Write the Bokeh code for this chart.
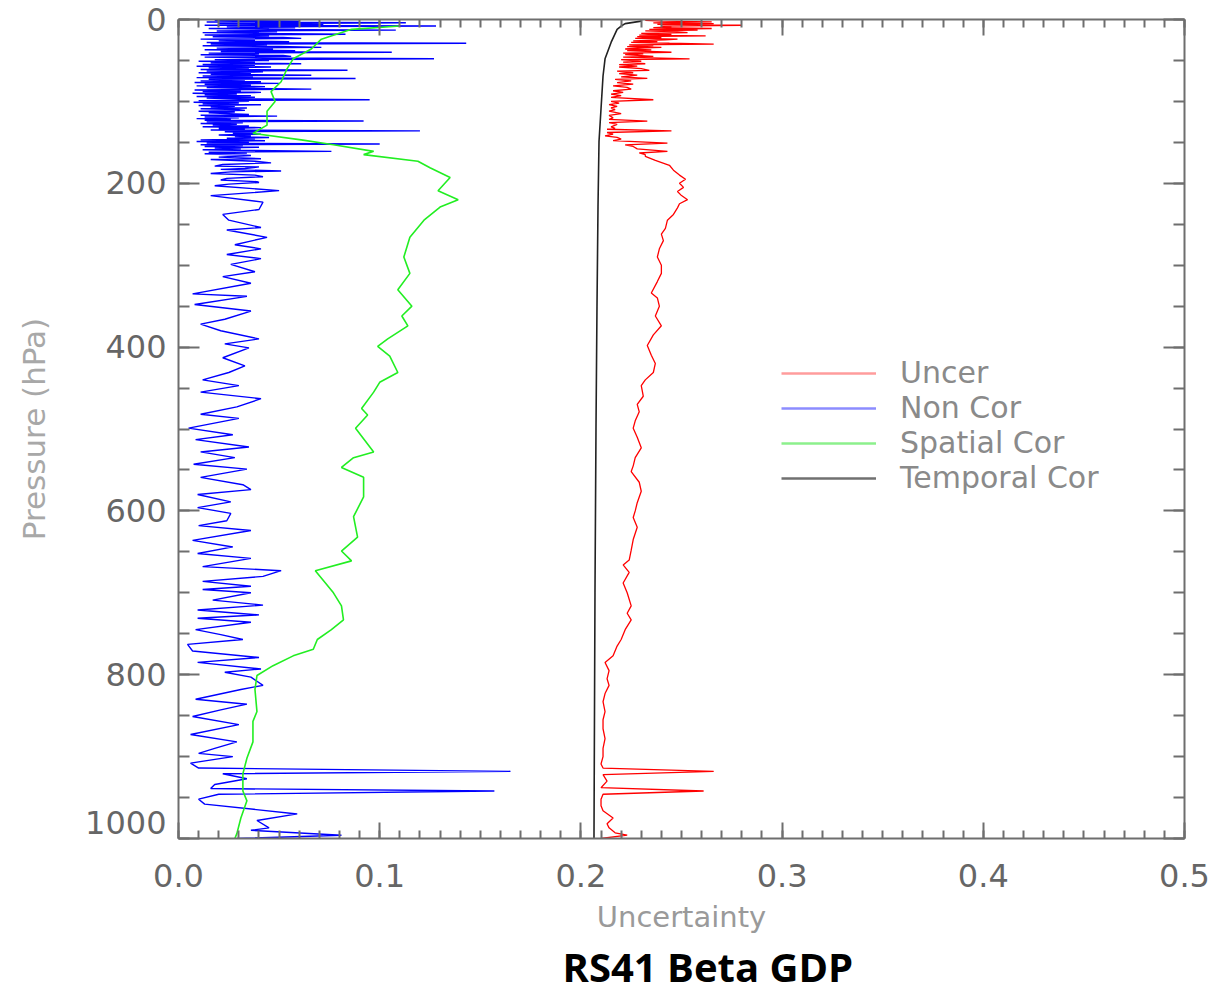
from bokeh.plotting import figure
from bokeh.models import (Range1d, LinearAxis, Legend, LegendItem, Title, CustomJSTickFormatter,
                          SingleIntervalTicker, NumeralTickFormatter, ColumnDataSource)
from bokeh.embed import file_html
from bokeh.resources import INLINE

# ---------------- data ----------------
x_ticks_fmt = "0.0"
# the bottom label of the pressure axis sits a little inward in the original
y_label_overrides = {1000: "1000\n "}
series_names = ["Uncer", "Non Cor", "Spatial Cor", "Temporal Cor"]

# Non Cor (blue)
noncor_p = [1, 2, 3, 4, 5, 6, 7, 8, 9, 10, 11, 12, 13, 14, 15, 16, 17, 18, 19, 20,
            21, 22, 23, 24, 25, 26, 27, 28, 29, 30, 31, 32, 33, 34, 35, 36, 37, 38, 39, 40,
            41, 42, 43, 44, 45, 46, 47, 48, 49, 50, 51, 52, 53, 54, 55, 56, 57, 58, 59, 60,
            61, 62, 63, 64, 65, 66, 67, 68, 69, 70, 71, 72, 73, 74, 75, 76, 77, 78, 79, 80,
            81, 82, 83, 84, 85, 86, 87, 88, 89, 90, 91, 92, 93, 94, 95, 96, 97, 98, 99, 100,
            101, 102, 103, 104, 105, 106, 107, 108, 109, 110, 111, 112, 113, 114, 116, 117, 118, 119, 120, 121,
            122, 123, 124, 125, 126, 127, 128, 129, 130, 131, 132, 133, 134, 135, 136, 137, 138, 139, 140, 141,
            142, 143, 144, 145, 146, 147, 148, 149, 150, 151, 152, 153, 154, 155, 156, 157, 158, 159, 160, 161,
            162, 163, 164, 166, 168, 170, 171, 173, 175, 177, 179, 180, 182, 183, 185, 186, 188, 190, 192, 194,
            196, 198, 199, 201, 203, 209, 215, 223, 232, 238, 245, 254, 257, 266, 275, 280, 287, 292, 299, 308,
            314, 322, 335, 338, 348, 356, 366, 372, 380, 390, 396, 401, 413, 423, 431, 440, 447, 455, 463, 473,
            482, 487, 499, 507, 513, 522, 528, 535, 543, 549, 559, 568, 574, 580, 589, 596, 603, 612, 618, 624,
            636, 644, 652, 658, 668, 673, 680, 686, 692, 696, 700, 709, 715, 721, 727, 731, 736, 745, 751, 757,
            763, 771, 779, 785, 793, 797, 803, 813, 818, 830, 836, 843, 851, 861, 873, 882, 890, 896, 900, 908,
            914, 918, 921, 927, 934, 939, 942, 946, 952, 958, 970, 978, 987, 990, 996, 1000]
noncor_u = [0.018, 0.060, 0.014, 0.113, 0.020, 0.072, 0.013, 0.128, 0.024, 0.058, 0.015, 0.045, 0.108, 0.019, 0.049, 0.012, 0.040, 0.083, 0.013, 0.045,
            0.017, 0.052, 0.061, 0.011, 0.038, 0.020, 0.055, 0.014, 0.143, 0.016, 0.044, 0.012, 0.050, 0.071, 0.019, 0.047, 0.013, 0.058, 0.021, 0.106,
            0.015, 0.040, 0.011, 0.052, 0.056, 0.013, 0.042, 0.127, 0.018, 0.045, 0.010, 0.038, 0.016, 0.061, 0.012, 0.038, 0.009, 0.046, 0.015, 0.035,
            0.011, 0.084, 0.014, 0.042, 0.010, 0.036, 0.016, 0.066, 0.012, 0.037, 0.009, 0.088, 0.015, 0.033, 0.011, 0.041, 0.008, 0.050, 0.013, 0.036,
            0.009, 0.043, 0.014, 0.031, 0.066, 0.008, 0.031, 0.012, 0.041, 0.007, 0.029, 0.013, 0.036, 0.009, 0.038, 0.014, 0.030, 0.095, 0.010, 0.035,
            0.0075, 0.030, 0.012, 0.041, 0.010, 0.028, 0.016, 0.034, 0.011, 0.030, 0.033, 0.010, 0.028, 0.015, 0.035, 0.011, 0.049, 0.013, 0.030, 0.009,
            0.026, 0.013, 0.092, 0.014, 0.032, 0.011, 0.029, 0.017, 0.035, 0.012, 0.041, 0.020, 0.033, 0.016, 0.120, 0.023, 0.038, 0.027, 0.041, 0.020,
            0.036, 0.028, 0.045, 0.024, 0.038, 0.011, 0.043, 0.009, 0.035, 0.014, 0.100, 0.011, 0.032, 0.013, 0.040, 0.018, 0.031, 0.012, 0.037, 0.076,
            0.015, 0.034, 0.013, 0.036, 0.020, 0.041, 0.016, 0.038, 0.046, 0.022, 0.018, 0.040, 0.033, 0.021, 0.051, 0.026, 0.016, 0.038, 0.042, 0.024,
            0.021, 0.039, 0.040, 0.025, 0.018, 0.050, 0.016, 0.042, 0.040, 0.022, 0.025, 0.041, 0.024, 0.044, 0.028, 0.041, 0.024, 0.041, 0.026, 0.038,
            0.022, 0.036, 0.007, 0.034, 0.008, 0.036, 0.023, 0.011, 0.021, 0.040, 0.023, 0.035, 0.022, 0.033, 0.025, 0.012, 0.030, 0.011, 0.041, 0.029,
            0.011, 0.030, 0.005, 0.027, 0.0085, 0.035, 0.011, 0.028, 0.0075, 0.034, 0.011, 0.032, 0.036, 0.0095, 0.026, 0.0095, 0.026, 0.024, 0.010, 0.036,
            0.007, 0.027, 0.0095, 0.036, 0.012, 0.051, 0.042, 0.012, 0.036, 0.012, 0.036, 0.017, 0.042, 0.0095, 0.040, 0.0095, 0.036, 0.0085, 0.021, 0.032,
            0.0045, 0.007, 0.040, 0.0095, 0.041, 0.023, 0.036, 0.042, 0.031, 0.0085, 0.034, 0.021, 0.007, 0.030, 0.006, 0.029, 0.018, 0.010, 0.027, 0.006,
            0.010, 0.165, 0.022, 0.034, 0.018, 0.016, 0.157, 0.020, 0.010, 0.013, 0.059, 0.039, 0.045, 0.036, 0.081, 0.029]

# Spatial Cor (green)
spatial_p = [8, 12, 24, 36, 48, 60, 76, 88, 100, 112, 129, 139, 147, 153, 161, 165, 173, 181, 193, 209,
             220, 229, 245, 266, 290, 310, 330, 350, 362, 374, 390, 399, 411, 431, 443, 455, 475, 483, 499, 528,
             535, 547, 559, 583, 607, 632, 649, 661, 673, 685, 700, 716, 733, 745, 757, 769, 777, 789, 801, 818,
             845, 857, 882, 902, 921, 942, 954, 975, 994, 1000]
spatial_u = [0.110, 0.086, 0.071, 0.066, 0.057, 0.054, 0.051, 0.046, 0.048, 0.044, 0.044, 0.037, 0.061, 0.077, 0.097, 0.092, 0.119, 0.125, 0.135, 0.129,
             0.139, 0.130, 0.122, 0.115, 0.112, 0.115, 0.109, 0.116, 0.111, 0.114, 0.104, 0.099, 0.105, 0.109, 0.100, 0.097, 0.091, 0.094, 0.088, 0.097,
             0.087, 0.081, 0.092, 0.092, 0.087, 0.089, 0.081, 0.086, 0.068, 0.072, 0.077, 0.081, 0.082, 0.076, 0.069, 0.067, 0.057, 0.047, 0.039, 0.038,
             0.039, 0.037, 0.037, 0.034, 0.032, 0.032, 0.034, 0.031, 0.029, 0.028]

# Temporal Cor (black)
temporal_p = [0, 2, 5, 8, 12, 28, 48, 69, 109, 149, 229, 350, 500, 700, 1000]
temporal_u = [0.230, 0.230, 0.222, 0.220, 0.218, 0.215, 0.212, 0.211, 0.210, 0.209, 0.2085, 0.208, 0.2075, 0.207, 0.2065]

# Uncer (red)
uncer_p = [1, 2, 3, 4, 5, 6, 7, 8, 9, 10, 11, 12, 13, 14, 15, 16, 17, 18, 19, 20,
           21, 22, 23, 24, 25, 26, 27, 28, 29, 30, 31, 32, 33, 34, 35, 36, 37, 38, 40, 41,
           42, 43, 45, 46, 48, 49, 51, 52, 54, 55, 57, 58, 60, 62, 63, 65, 66, 68, 70, 72,
           73, 75, 77, 79, 81, 83, 85, 87, 89, 91, 93, 95, 98, 100, 102, 104, 106, 108, 110, 112,
           115, 117, 120, 122, 124, 126, 128, 131, 133, 134, 136, 138, 140, 142, 144, 146, 148, 151, 153, 155,
           158, 161, 163, 165, 167, 172, 178, 184, 190, 195, 200, 205, 210, 215, 220, 225, 230, 238, 245, 255,
           262, 270, 280, 290, 300, 310, 320, 334, 340, 350, 362, 374, 385, 398, 410, 420, 431, 440, 447, 460,
           470, 479, 490, 499, 510, 523, 535, 545, 552, 565, 576, 590, 600, 608, 620, 635, 648, 660, 666, 675,
           688, 700, 716, 725, 733, 745, 757, 765, 777, 785, 795, 805, 813, 823, 833, 845, 855, 866, 878, 890,
           900, 909, 914, 918, 922, 930, 938, 942, 946, 952, 960, 966, 975, 982, 987, 993, 996, 1000]
uncer_u = [0.232, 0.240, 0.265, 0.236, 0.266, 0.238, 0.280, 0.240, 0.245, 0.236, 0.265, 0.234, 0.258, 0.232, 0.248, 0.253, 0.230, 0.245, 0.229, 0.262,
           0.228, 0.240, 0.227, 0.248, 0.242, 0.226, 0.238, 0.225, 0.244, 0.266, 0.224, 0.236, 0.223, 0.240, 0.228, 0.222, 0.235, 0.223, 0.245, 0.221,
           0.231, 0.222, 0.236, 0.221, 0.254, 0.220, 0.230, 0.221, 0.232, 0.219, 0.228, 0.219, 0.230, 0.234, 0.218, 0.226, 0.219, 0.228, 0.220, 0.233,
           0.217, 0.225, 0.218, 0.226, 0.216, 0.223, 0.225, 0.216, 0.221, 0.215, 0.220, 0.215, 0.236, 0.215, 0.219, 0.214, 0.218, 0.215, 0.217, 0.214,
           0.220, 0.214, 0.216, 0.214, 0.233, 0.214, 0.218, 0.215, 0.217, 0.213, 0.245, 0.213, 0.216, 0.212, 0.218, 0.220, 0.216, 0.243, 0.222, 0.226,
           0.228, 0.243, 0.229, 0.232, 0.232, 0.237, 0.244, 0.246, 0.249, 0.252, 0.249, 0.251, 0.248, 0.250, 0.253, 0.249, 0.248, 0.246, 0.243, 0.242,
           0.240, 0.241, 0.239, 0.238, 0.240, 0.240, 0.238, 0.235, 0.238, 0.239, 0.237, 0.240, 0.236, 0.233, 0.235, 0.237, 0.236, 0.232, 0.230, 0.231,
           0.228, 0.229, 0.227, 0.226, 0.228, 0.230, 0.227, 0.226, 0.225, 0.229, 0.230, 0.228, 0.227, 0.226, 0.228, 0.226, 0.225, 0.224, 0.221, 0.224,
           0.221, 0.223, 0.225, 0.223, 0.225, 0.222, 0.220, 0.218, 0.216, 0.212, 0.214, 0.213, 0.214, 0.212, 0.211, 0.212, 0.211, 0.211, 0.212, 0.211,
           0.211, 0.210, 0.211, 0.266, 0.211, 0.213, 0.210, 0.261, 0.211, 0.210, 0.210, 0.211, 0.216, 0.213, 0.214, 0.217, 0.223, 0.210]

# ---------------- figure ----------------
FONT = "DejaVu Sans"
TICK_COLOR = "#666666"

p = figure(width=1215, height=994, output_backend="svg", toolbar_location=None,
           x_range=Range1d(0, 0.5), y_range=Range1d(1000, 0),
           min_border_left=178, min_border_right=31, min_border_top=19, min_border_bottom=156,
           x_axis_label="Uncertainty", y_axis_label="Pressure (hPa)")
p.grid.visible = False
p.outline_line_color = None
p.background_fill_color = "white"
p.border_fill_color = "white"

AX_COLOR = "#6e6e6e"
blank = CustomJSTickFormatter(code="return '';")


def style_common(ax, tin, tin_minor):
    ax.axis_line_color = AX_COLOR
    ax.axis_line_width = 2
    ax.major_tick_line_color = AX_COLOR
    ax.minor_tick_line_color = AX_COLOR
    ax.major_tick_line_width = 2
    ax.minor_tick_line_width = 2
    ax.major_tick_in = tin
    ax.major_tick_out = 0
    ax.minor_tick_in = tin_minor
    ax.minor_tick_out = 0


def style_x(ax, labels=True):
    ax.ticker = SingleIntervalTicker(interval=0.1, num_minor_ticks=10)
    style_common(ax, 16, 8)
    if labels:
        ax.formatter = NumeralTickFormatter(format=x_ticks_fmt)
        ax.major_label_text_font = FONT
        ax.major_label_text_font_size = "32px"
        ax.major_label_text_color = TICK_COLOR
        ax.major_label_standoff = 25
        ax.axis_label_text_font = FONT
        ax.axis_label_text_font_size = "29px"
        ax.axis_label_text_font_style = "normal"
        ax.axis_label_text_color = "#9a9a9a"
        ax.axis_label_standoff = 10
    else:
        ax.formatter = blank
        ax.major_label_standoff = 0


def style_y(ax, labels=True):
    ax.ticker = SingleIntervalTicker(interval=200, num_minor_ticks=4)
    style_common(ax, 21, 11)
    if labels:
        ax.major_label_overrides = y_label_overrides
        ax.major_label_text_line_height = 0.8
        ax.major_label_text_font = FONT
        ax.major_label_text_font_size = "32px"
        ax.major_label_text_color = TICK_COLOR
        ax.major_label_standoff = 12
        ax.axis_label_text_font = FONT
        ax.axis_label_text_font_size = "31px"
        ax.axis_label_text_font_style = "normal"
        ax.axis_label_text_color = "#a8a8a8"
        ax.axis_label_standoff = 30
    else:
        ax.formatter = blank
        ax.major_label_standoff = 0


style_x(p.xaxis[0])
style_y(p.yaxis[0])
top_ax = LinearAxis()
style_x(top_ax, labels=False)
p.add_layout(top_ax, "above")
right_ax = LinearAxis()
style_y(right_ax, labels=False)
p.add_layout(right_ax, "right")

# ---------------- lines ----------------
src_nc = ColumnDataSource(dict(u=noncor_u, p=noncor_p))
src_sc = ColumnDataSource(dict(u=spatial_u, p=spatial_p))
src_tc = ColumnDataSource(dict(u=temporal_u, p=temporal_p))
src_un = ColumnDataSource(dict(u=uncer_u, p=uncer_p))

p.line("u", "p", source=src_nc, line_color="#0000ff", line_width=1.4)
p.line("u", "p", source=src_sc, line_color="#22ee22", line_width=1.6)
p.line("u", "p", source=src_tc, line_color="#222222", line_width=1.6)
p.line("u", "p", source=src_un, line_color="#ff0000", line_width=1.3)

# legend swatches (lighter, as drawn in the original legend); they hold no visible data
nan = float("nan")
leg_colors = ["#ff9c9c", "#8c8cff", "#8cf08c", "#707070"]
leg_renderers = [p.line(x=[nan], y=[nan], line_color=c, line_width=2.5) for c in leg_colors]
legend = Legend(items=[LegendItem(label=n, renderers=[r]) for n, r in zip(series_names, leg_renderers)],
                location=(603, 343), glyph_width=95, glyph_height=20, label_standoff=24,
                spacing=0, padding=0, margin=0, border_line_color=None,
                background_fill_alpha=0, label_text_font=FONT, label_text_font_size="30px",
                label_text_color="#8a8a8a", label_height=20)
p.add_layout(legend)

# caption below the chart
cap = Title(text="RS41 Beta GDP", align="left", offset=384, text_font="Open Sans", standoff=0,
            text_font_style="bold", text_font_size="40px", text_color="black", text_line_height=1.0)
p.add_layout(cap, "below")

open("out.html", "w").write(file_html(p, INLINE))
